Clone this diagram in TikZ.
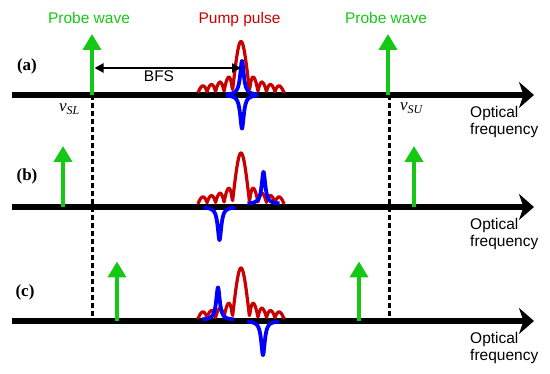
\documentclass[tikz,border=0pt]{standalone}
\usepackage{fontspec}
\setmainfont{Liberation Serif}
\newfontfamily\sansf{Liberation Sans}
\usetikzlibrary{arrows.meta}
\definecolor{pgreen}{RGB}{22,200,22}
\definecolor{pred}{RGB}{200,0,0}
\definecolor{pblue}{RGB}{0,0,255}
\tikzset{
 axisline/.style={line width=5.5pt, -{Stealth[length=15pt,width=26pt,inset=4.5pt]}},
 probe/.style={pgreen, line width=4pt, -{Triangle[length=16pt,width=18pt]}},
 guide/.style={line width=3pt, dash pattern=on 5pt off 3pt},
 pump/.style={pred, line width=3.2pt, line join=round},
 gainline/.style={pblue, line width=3.8pt, line join=round},
 sanslbl/.style={font=\sansf\fontsize{15.5}{17}\selectfont, inner sep=0pt},
 panel/.style={font=\bfseries\fontsize{17}{19}\selectfont, inner sep=0pt},
 freqlbl/.style={font=\itshape\fontsize{17}{19}\selectfont, inner sep=0pt, anchor=base west},
 bfsarrow/.style={line width=2pt, {Triangle[length=9pt,width=9pt]}-{Triangle[length=9pt,width=9pt]}},
}
\newcommand{\pumpcurve}[3]{% center, base, height
  \draw[pump] plot[domain=-43:43, samples=172] ({#1+\x}, {#2 - #3*pow(abs(sin(21.18*\x)/(0.3696*\x))+0.0001,0.8)});}
\newcommand{\lorcurve}[3]{% center, base, signed height
  \draw[gainline] plot[domain=-16:16, samples=161] ({#1+\x}, {#2 - #3/(1+\x*\x/4.84)});}
\begin{document}
\begin{tikzpicture}[x=1pt,y=-1pt]
\useasboundingbox (0,0) rectangle (550,374);
% guide lines
\coordinate (gLt) at (92,95);  \coordinate (gLb) at (92,321);
\coordinate (gUt) at (389,95); \coordinate (gUb) at (389,321);
\draw[guide] (gLt) -- (gLb);
\draw[guide] (gUt) -- (gUb);
% axes
\foreach \ay/\nm in {95/A,207/B,321/C}{
  \coordinate (s\nm) at (12,\ay);
  \coordinate (e\nm) at (534,\ay);
  \draw[axisline] (s\nm) -- (e\nm);
  \node[sanslbl, anchor=base west] at (470,\ay+23) {Optical};
  \node[sanslbl, anchor=base west] at (470,\ay+39.5) {frequency};
}
% titles
\node[sanslbl, anchor=base, text=pgreen] (probeL) at (89,24) {Probe wave};
\node[sanslbl, anchor=base, text=pgreen] (probeR) at (386,24) {Probe wave};
\node[sanslbl, anchor=base, text=pred] (pump) at (239.5,24) {Pump pulse};
% panel labels
\node[panel] (la) at (27,66) {(a)};
\node[panel] (lb) at (27,176) {(b)};
\node[panel] (lc) at (25,292.5) {(c)};
% nu labels
\node[freqlbl] (nuSL) at (59,112) {ν\textsubscript{SL}};
\node[freqlbl] (nuSU) at (400,111) {ν\textsubscript{SU}};
% pump spectra
\pumpcurve{241}{92}{50.5}
\pumpcurve{241}{203}{50}
\pumpcurve{241}{318}{50}
% Brillouin gain / loss
\lorcurve{242}{95}{34}
\lorcurve{242}{95}{-33.5}
\lorcurve{219.5}{207}{-33}
\lorcurve{263.5}{204}{32}
\lorcurve{218}{320}{32.5}
\lorcurve{263}{321}{-34}
% probe arrows
\draw[probe] (92,95) -- (92,34);
\draw[probe] (388,95) -- (388,34);
\draw[probe] (63,207) -- (63,146);
\draw[probe] (414,207) -- (414,146);
\draw[probe] (117,321) -- (117,261.5);
\draw[probe] (359,321) -- (359,261.5);
% BFS
\coordinate (bfsL) at (94.5,68);
\coordinate (bfsR) at (241,68);
\draw[bfsarrow] (bfsL) -- (bfsR);
\node[sanslbl, anchor=base] (bfs) at (159,82) {BFS};
\end{tikzpicture}
\end{document}
